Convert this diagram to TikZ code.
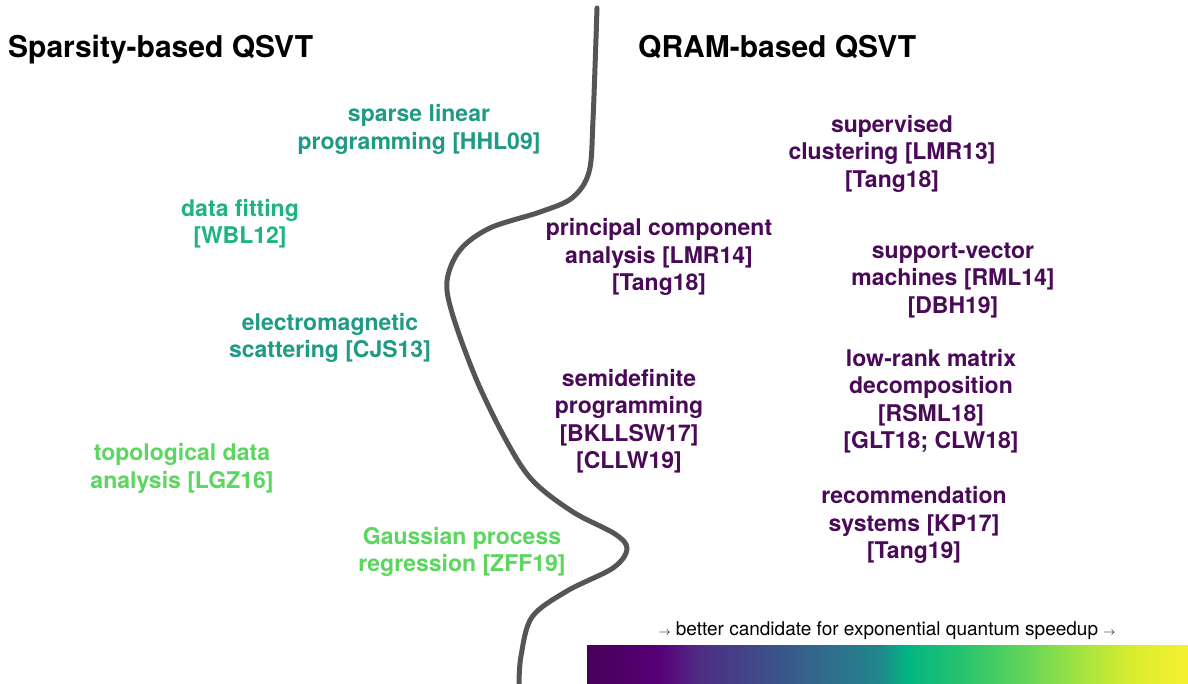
\documentclass[tikz,border=0pt]{standalone}
\usepackage{fontspec}
\setmainfont{TeX Gyre Heros}
\definecolor{tealA}{HTML}{1F9A84}
\definecolor{tealB}{HTML}{1DB480}
\definecolor{greenA}{HTML}{5BD65E}
\definecolor{purp}{HTML}{4A0A58}
\definecolor{curvegray}{HTML}{555555}
\definecolor{v0}{HTML}{480058}
\definecolor{v1}{HTML}{560078}
\definecolor{v2}{HTML}{4F2D84}
\definecolor{v3}{HTML}{3E4B89}
\definecolor{v4}{HTML}{2F6E8D}
\definecolor{v5}{HTML}{20868B}
\definecolor{v6}{HTML}{02B583}
\definecolor{v7}{HTML}{25C370}
\definecolor{v8}{HTML}{5CD35A}
\definecolor{v9}{HTML}{A3E342}
\definecolor{v10}{HTML}{D7EC2E}
\definecolor{v11}{HTML}{F5F12F}
\begin{document}
\begin{tikzpicture}[x=1pt,y=-1pt,
  lbl/.style={align=center, inner sep=0pt, font=\bfseries\fontsize{23}{27.5}\selectfont},
  ttl/.style={anchor=base west, inner sep=0pt, font=\bfseries\fontsize{30}{36}\selectfont},
  divider/.style={draw=curvegray, line width=5pt, line cap=round, line join=round}]
\fill[white] (0,0) rectangle (1188,684);
\useasboundingbox (0,0) rectangle (1188,684);

% titles
\node[ttl] (tleft) at (8,58) {Sparsity-based QSVT};
\node[ttl] (tright) at (638,58) {QRAM-based QSVT};

% dividing curve
\draw[divider] plot[smooth, tension=0.55] coordinates {
 (597,8) (593,120) (589,172) (572,198) (540,212) (490,228) (460,250) (447,281)
 (453,316) (477,381) (507,442) (533,481) (573,512) (615,534) (627,549)
 (613,568) (567,591) (532,617) (521,656) (519,684)};

% sparsity side
\node[lbl, text=tealA] (slp) at (419,129.5) {sparse linear\\programming [HHL09]};
\node[lbl, text=tealB] (fit) at (240,223.5) {data fitting\\{}[WBL12]};
\node[lbl, text=tealA] (ems) at (330,338) {electromagnetic\\scattering [CJS13]};
\node[lbl, text=greenA] (tda) at (182,468.5) {topological data\\analysis [LGZ16]};
\node[lbl, text=greenA] (gpr) at (462,552) {Gaussian process\\regression [ZFF19]};

% QRAM side
\node[lbl, text=purp] (sup) at (892,153.5) {supervised\\clustering [LMR13]\\{}[Tang18]};
\node[lbl, text=purp] (pca) at (659,257) {principal component\\analysis [LMR14]\\{}[Tang18]};
\node[lbl, text=purp] (svm) at (953,280.5) {support-vector\\machines [RML14]\\{}[DBH19]};
\node[lbl, text=purp] (sdp) at (629,421) {semidefinite\\programming\\{}[BKLLSW17]\\{}[CLLW19]};
\node[lbl, text=purp] (lrm) at (931,401) {low-rank matrix\\decomposition\\{}[RSML18]\\{}[GLT18; CLW18]};
\node[lbl, text=purp] (rec) at (914,525) {recommendation\\systems [KP17]\\{}[Tang19]};

% colour bar
\shade[left color=v0, right color=v1] (587,645) rectangle (660,684);
\shade[left color=v1, right color=v2] (659.5,645) rectangle (700,684);
\shade[left color=v2, right color=v3] (699.5,645) rectangle (760,684);
\shade[left color=v3, right color=v4] (759.5,645) rectangle (830,684);
\shade[left color=v4, right color=v5] (829.5,645) rectangle (880,684);
\shade[left color=v5, right color=v6] (879.5,645) rectangle (907,684);
\shade[left color=v6, right color=v7] (906.5,645) rectangle (960,684);
\shade[left color=v7, right color=v8] (959.5,645) rectangle (1020,684);
\shade[left color=v8, right color=v9] (1019.5,645) rectangle (1080,684);
\shade[left color=v9, right color=v10] (1079.5,645) rectangle (1130,684);
\shade[left color=v10, right color=v11] (1129.5,645) rectangle (1188,684);

\node[anchor=base, inner sep=0pt, font=\fontsize{19}{22}\selectfont] (cap) at (887,635)
  {{\fontsize{13}{13}\selectfont$\rightarrow$} better candidate for exponential quantum speedup {\fontsize{13}{13}\selectfont$\rightarrow$}};
\end{tikzpicture}
\end{document}
